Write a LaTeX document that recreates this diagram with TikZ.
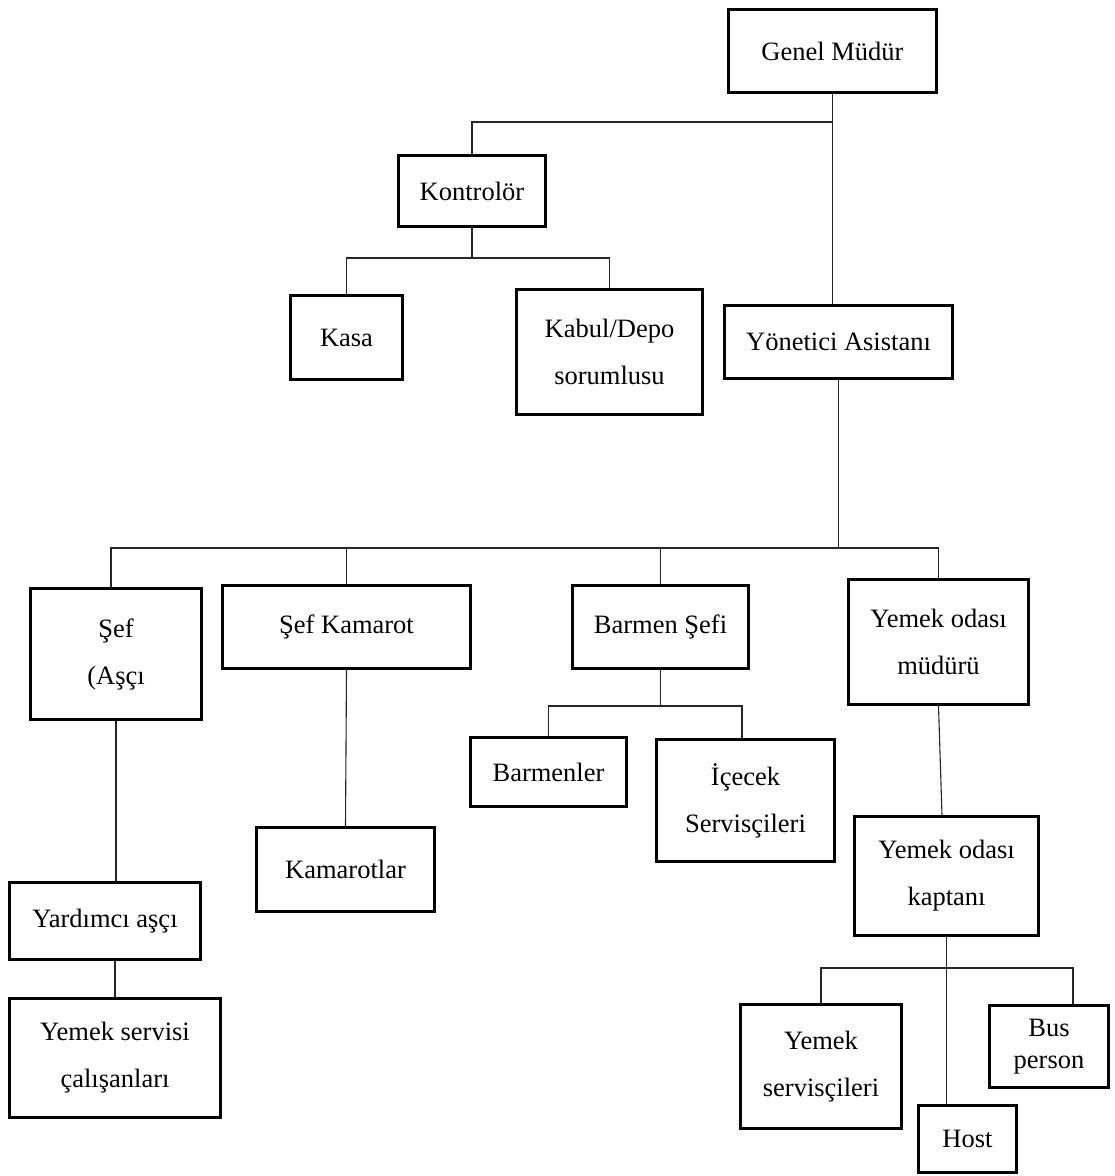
\documentclass[tikz,border=0pt]{standalone}
\usepackage{fontspec}
\setmainfont{Liberation Serif}
\begin{document}
\begin{tikzpicture}[x=1pt,y=-1pt,
  box/.style={draw=black,line width=2.6pt,inner sep=0pt,align=center,
    font={\fontsize{26.5pt}{47pt}\selectfont}},
  conn/.style={draw=black!85,line width=1.1pt}]
\useasboundingbox (0,0) rectangle (1115,1176);
\fill[white] (0,0) rectangle (1115,1176);
% nodes
\node[box,minimum width=208pt,minimum height=83pt] (gm) at (832.5,51) {Genel Müdür};
\node[box,minimum width=147pt,minimum height=71pt] (kon) at (472,191) {Kontrolör};
\node[box,minimum width=112pt,minimum height=84pt] (kasa) at (346.5,337.5) {Kasa};
\node[box,minimum width=186pt,minimum height=125pt] (kabul) at (609.5,352) {Kabul/Depo\\sorumlusu};
\node[box,minimum width=228pt,minimum height=73pt] (yon) at (838.5,342) {Yönetici Asistanı};
\node[box,minimum width=171pt,minimum height=131pt] (sef) at (116,654) {Şef\\(Aşçı};
\node[box,minimum width=248pt,minimum height=83pt] (sefk) at (346.5,627) {Şef Kamarot};
\node[box,minimum width=176pt,minimum height=83pt] (bars) at (660.5,627) {Barmen Şefi};
\node[box,minimum width=180pt,minimum height=125pt] (ymud) at (938.5,642) {Yemek odası\\müdürü};
\node[box,minimum width=178pt,minimum height=84pt] (kam) at (345.5,869.5) {Kamarotlar};
\node[box,minimum width=156pt,minimum height=69pt] (barm) at (548.5,772) {Barmenler};
\node[box,minimum width=178pt,minimum height=122pt] (icec) at (745.5,800.5) {İçecek\\Servisçileri};
\node[box,minimum width=191pt,minimum height=77pt] (yard) at (105,921) {Yardımcı aşçı};
\node[box,minimum width=211pt,minimum height=119pt] (yser) at (115,1058) {Yemek servisi\\çalışanları};
\node[box,minimum width=184pt,minimum height=119pt] (kapt) at (946.5,876) {Yemek odası\\kaptanı};
\node[box,minimum width=161pt,minimum height=124pt] (ysc) at (821,1066.5) {Yemek\\servisçileri};
\node[box,minimum width=119pt,minimum height=82pt,font={\fontsize{26.5pt}{32pt}\selectfont}] (bus) at (1049,1046.5) {Bus\\person};
\node[box,minimum width=98pt,minimum height=67pt] (host) at (967.5,1139) {Host};
% junctions
\coordinate (j1) at (832.5,122);
\coordinate (j2) at (472,258);
\coordinate (j3) at (838.5,548);
\coordinate (j4) at (660.5,706);
\coordinate (j5) at (946.5,968);
% connectors
\draw[conn] (gm.south) -- (gm.south |- yon.north);
\draw[conn] (j1) -| (kon.north);
\draw[conn] (kon.south) -- (j2);
\draw[conn] (kasa.north) |- (j2) -| (kabul.north);
\draw[conn] (yon.south) -- (j3);
\draw[conn] ([xshift=-5pt]sef.north) |- (ymud.north |- j3) -- (ymud.north);
\draw[conn] (sefk.north) -- (sefk.north |- j3);
\draw[conn] (bars.north) -- (bars.north |- j3);
\draw[conn] (sef.south) -- (sef.south |- yard.north);
\draw[conn] (yser.north) -- (yser.north |- yard.south);
\draw[conn] (sefk.south) -- (kam.north);
\draw[conn] (bars.south) -- (j4);
\draw[conn] (barm.north) |- (j4) -| ([xshift=-3.5pt]icec.north);
\draw[conn] (ymud.south) -- ([xshift=-4.5pt]kapt.north);
\draw[conn] (kapt.south) -- (kapt.south |- host.north);
\draw[conn] (ysc.north) |- (j5) -| ([xshift=24pt]bus.north);
\end{tikzpicture}
\end{document}
